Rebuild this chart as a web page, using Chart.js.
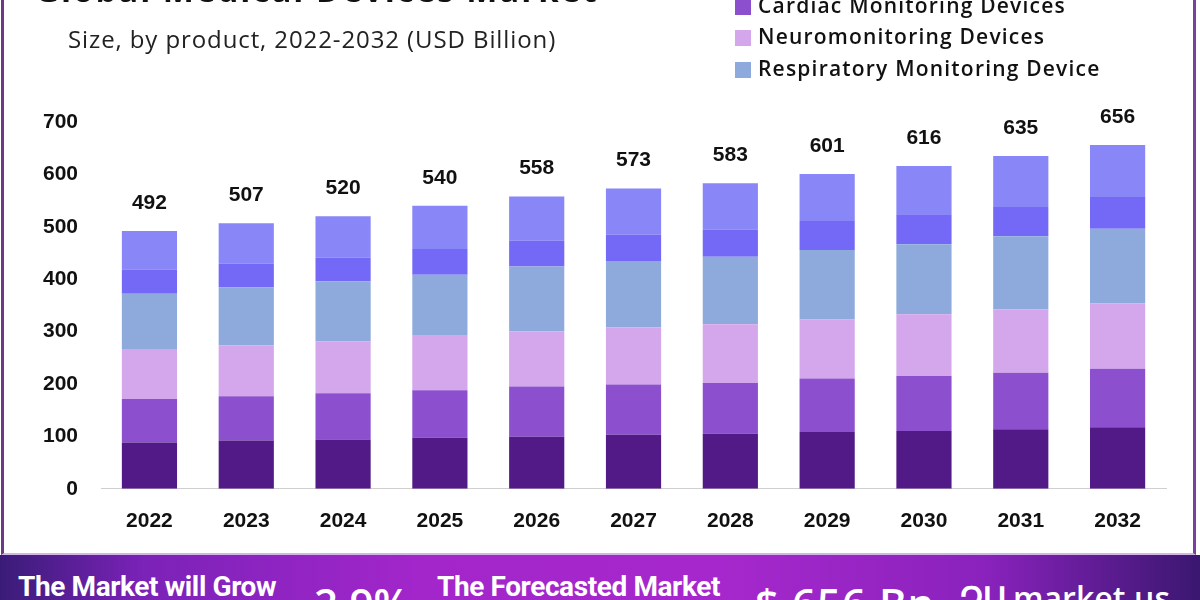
<!DOCTYPE html>
<html>
<head>
<meta charset="utf-8">
<title>Global Medical Devices Market</title>
<script src="https://cdn.jsdelivr.net/npm/chart.js@4"></script>
<style>
  html, body { margin: 0; padding: 0; background: #fff; }
  #page { position: relative; width: 1200px; height: 600px; overflow: hidden; background: #fff; font-family: "Open Sans", sans-serif; }
  #frame { position: absolute; left: 1px; top: -10px; width: 1189px; height: 563px; border-left: 3px solid #6a3a84; border-right: 3px solid #7a3fa0; border-bottom: 2px solid #d2b4e6; }
  #chartBox { position: absolute; left: 0; top: 0; }
  #title { position: absolute; left: 35px; top: -33px; font-size: 33px; font-weight: 700; letter-spacing: 2px; color: #111; white-space: nowrap; }
  #subtitle { position: absolute; left: 68px; top: 22px; font-size: 24px; letter-spacing: 0.9px; color: #222; white-space: nowrap; }
  #legend { position: absolute; left: 735px; top: 0; }
  .lg-row { position: absolute; left: 0; white-space: nowrap; }
  .lg-box { position: absolute; left: 0; width: 16px; height: 16px; }
  .lg-text { position: absolute; left: 23px; top: -8px; font-size: 21px; font-weight: 600; letter-spacing: 1.2px; color: #111; }
  #banner { position: absolute; left: 0; top: 555px; width: 1200px; height: 45px;
    background: linear-gradient(90deg, #3a1c78 0%, #7b22b8 12%, #a326cb 35%, #a628cc 60%, #8a22bd 82%, #3a1770 100%); }
  .bn { position: absolute; color: #fff; white-space: nowrap; }
  .bn-small { font-family: Roboto, sans-serif; font-weight: 700; font-size: 28px; letter-spacing: -0.4px; top: 15px; }
  .bn-big { font-family: "Open Sans", sans-serif; font-weight: 600; font-size: 42px; top: 19px; }
</style>
</head>
<body>
<div id="page">
  <div id="frame"></div>
  <div id="chartBox"><canvas id="marketChart" width="1200" height="600"></canvas></div>
  <div id="title">Global Medical Devices Market</div>
  <div id="subtitle">Size, by product, 2022-2032 (USD Billion)</div>
  <div id="legend"></div>
  <div id="banner">
    <div class="bn bn-small" style="left:18px;">The Market will Grow</div>
    <div class="bn bn-big" style="left:314px;">2.9%</div>
    <div class="bn bn-small" style="left:437px;">The Forecasted Market</div>
    <div class="bn bn-big" style="left:755px; letter-spacing:1px;">$ 656 Bn</div>
    <div class="bn bn-big" style="left:960px; font-size:32px; top:21px;">&#1353;&#1329;<span style="margin-left:5px;">market.us</span></div>
  </div>
</div>

<script>
// 年（X軸）
const years = ["2022", "2023", "2024", "2025", "2026", "2027", "2028", "2029", "2030", "2031", "2032"];

// 製品別の値（USD Billion）- 下から順に積み上げ
const vitalSigns = [88.5, 92, 94, 97.5, 99.5, 103, 105, 108.5, 110.5, 113.5, 117.5];
const cardiac = [83, 84.5, 88.5, 90.5, 95.5, 96, 97, 102, 105, 108, 111.5];
const neuro = [95.5, 97, 98.5, 104, 105, 109, 112, 112.5, 117.5, 120.5, 125];
const respiratory = [105, 111, 115, 116.5, 124, 126.5, 129, 132.5, 133.5, 140, 142.5];
const multiparameter = [46, 45, 45, 49, 50, 51, 52, 55.5, 57.5, 56, 60.5];
const others = [74, 77.5, 79, 82.5, 84, 87.5, 88, 90, 92, 97, 99];

// 棒の上に表示する合計値
const totalLabels = ["492", "507", "520", "540", "558", "573", "583", "601", "616", "635", "656"];

// Y軸の目盛り
const yTicks = [0, 100, 200, 300, 400, 500, 600, 700];

const series = [
  { label: "Vital Signs Monitoring Devices", data: vitalSigns, color: "#521a87" },
  { label: "Cardiac Monitoring Devices", data: cardiac, color: "#8c4fcd" },
  { label: "Neuromonitoring Devices", data: neuro, color: "#d4a6eb" },
  { label: "Respiratory Monitoring Device", data: respiratory, color: "#8eaadc" },
  { label: "Multiparameter Monitoring Devices", data: multiparameter, color: "#7468f6" },
  { label: "Other Monitoring Devices", data: others, color: "#8986f7" },
];

// 凡例（上の方は画像の外に切れている）
const legendOrder = [5, 4, 0, 1, 2, 3];
const legendEl = document.getElementById("legend");
legendOrder.forEach((idx, i) => {
  const s = series[idx];
  const row = document.createElement("div");
  row.className = "lg-row";
  row.style.top = (i - 3) * 31.5 - 1.5 + "px";
  row.innerHTML = `<div class="lg-box" style="background:${s.color}"></div><div class="lg-text">${s.label}</div>`;
  legendEl.appendChild(row);
});

// 合計値を棒の上に描くプラグイン
const totalsPlugin = {
  id: "totals",
  afterDatasetsDraw(chart) {
    const ctx = chart.ctx;
    const meta = chart.getDatasetMeta(chart.data.datasets.length - 1);
    ctx.save();
    ctx.font = "bold 21px 'Liberation Sans', Arial, sans-serif";
    ctx.fillStyle = "#111";
    ctx.textAlign = "center";
    ctx.textBaseline = "middle";
    meta.data.forEach((bar, i) => {
      ctx.fillText(totalLabels[i], bar.x, bar.y - 28);
    });
    ctx.restore();
  },
};

const ctx = document.getElementById("marketChart").getContext("2d");
const marketChart = new Chart(ctx, {
  type: "bar",
  data: {
    labels: years,
    datasets: series.map((s) => ({
      label: s.label,
      data: s.data,
      backgroundColor: s.color,
      borderWidth: 0,
      categoryPercentage: 1,
      barPercentage: 0.57,
    })),
  },
  options: {
    responsive: false,
    animation: false,
    layout: { padding: { left: 20, right: 34, top: 122, bottom: 46 } },
    plugins: {
      legend: { display: false },
      tooltip: { enabled: false },
    },
    scales: {
      x: {
        stacked: true,
        grid: { display: false, drawTicks: false },
        border: { display: true, color: "#cfcfcf", width: 1 },
        ticks: {
          padding: 20,
          color: "#111",
          font: { family: "'Liberation Sans', Arial, sans-serif", size: 21, weight: "bold" },
        },
      },
      y: {
        stacked: true,
        min: 0,
        max: 700,
        afterBuildTicks: (axis) => {
          axis.ticks = yTicks.map((v) => ({ value: v }));
        },
        grid: { display: false, drawTicks: false },
        border: { display: false },
        ticks: {
          padding: 23,
          color: "#111",
          font: { family: "'Liberation Sans', Arial, sans-serif", size: 21, weight: "bold" },
        },
      },
    },
  },
  plugins: [totalsPlugin],
});
</script>
</body>
</html>
